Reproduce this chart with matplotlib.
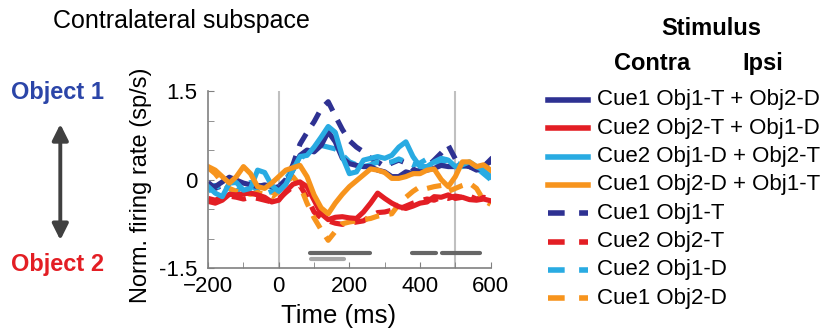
import numpy as np
import matplotlib.pyplot as plt
from matplotlib.lines import Line2D
from matplotlib.patches import FancyArrowPatch

plt.rcParams['font.family'] = ['Liberation Sans', 'DejaVu Sans']

# time axis (ms)
t = list(range(-200, 601, 20))

# Cue1 Obj1-T + Obj2-D (navy, solid)
navy_solid = [-0.09, -0.12, -0.04, 0.04, -0.01, -0.06, -0.09, -0.12, -0.09, -0.12, -0.15,
              -0.06, 0.16, 0.41, 0.50, 0.47, 0.58, 0.81, 0.64, 0.36, 0.27, 0.24, 0.22, 0.22,
              0.16, 0.13, 0.05, 0.05, 0.13, 0.10, 0.16, 0.16, 0.19, 0.24, 0.22, 0.22, 0.24,
              0.22, 0.16, 0.22, 0.34]
# Cue2 Obj2-T + Obj1-D (red, solid)
red_solid = [-0.37, -0.40, -0.35, -0.25, -0.26, -0.24, -0.23, -0.26, -0.30, -0.38, -0.35,
             -0.20, -0.08, -0.04, -0.12, -0.35, -0.58, -0.68, -0.64, -0.63, -0.65, -0.66,
             -0.55, -0.40, -0.23, -0.32, -0.40, -0.46, -0.49, -0.45, -0.40, -0.38, -0.29,
             -0.30, -0.26, -0.32, -0.30, -0.34, -0.35, -0.33, -0.36]
# Cue2 Obj1-D + Obj2-T (light blue, solid)
cyan_solid = [-0.12, -0.23, -0.29, -0.06, -0.05, -0.18, -0.15, 0.16, 0.12, -0.10, -0.20,
              -0.08, 0.16, 0.39, 0.41, 0.55, 0.72, 0.90, 0.80, 0.39, 0.10, 0.13, 0.33, 0.36,
              0.39, 0.36, 0.41, 0.55, 0.64, 0.39, 0.22, 0.22, 0.30, 0.36, 0.33, 0.22, 0.25,
              0.30, 0.22, 0.16, 0.05]
# Cue1 Obj2-D + Obj1-T (orange, solid)
orange_solid = [0.22, 0.16, 0.05, -0.06, 0.05, 0.22, 0.10, -0.12, -0.15, -0.06, 0.05,
                0.16, 0.20, 0.24, 0.05, -0.26, -0.48, -0.58, -0.40, -0.25, -0.12, -0.02,
                0.08, 0.18, 0.16, 0.12, 0.02, 0.02, 0.05, 0.10, 0.10, 0.16, 0.18, 0.00,
                -0.12, 0.05, 0.30, 0.30, 0.22, 0.25, 0.16]
# Cue1 Obj1-T (navy, dashed)
navy_dash = [-0.05, -0.15, -0.10, 0.00, -0.05, -0.10, -0.12, -0.10, -0.12, -0.15, -0.12,
             0.00, 0.25, 0.60, 0.80, 0.98, 1.20, 1.32, 1.08, 0.85, 0.66, 0.55, 0.47, 0.36,
             0.30, 0.22, 0.28, 0.33, 0.28, 0.18, 0.12, 0.22, 0.33, 0.45, 0.58, 0.35, 0.30,
             0.22, 0.18, 0.24, 0.30]
# Cue2 Obj2-T (red, dashed)
red_dash = [-0.32, -0.35, -0.30, -0.28, -0.30, -0.33, -0.30, -0.32, -0.35, -0.38, -0.33,
            -0.22, -0.12, -0.10, -0.30, -0.55, -0.65, -0.70, -0.74, -0.76, -0.74, -0.72,
            -0.70, -0.62, -0.56, -0.55, -0.52, -0.50, -0.45, -0.40, -0.36, -0.33, -0.35,
            -0.30, -0.32, -0.28, -0.30, -0.28, -0.33, -0.30, -0.34]
# Cue2 Obj1-D (light blue, dashed)
cyan_dash = [-0.20, -0.10, -0.15, -0.25, -0.20, -0.10, -0.05, -0.20, -0.25, -0.20, -0.15,
             0.00, 0.20, 0.35, 0.45, 0.50, 0.58, 0.55, 0.52, 0.42, 0.30, 0.25, 0.22, 0.25,
             0.30, 0.28, 0.30, 0.35, 0.30, 0.25, 0.28, 0.35, 0.30, 0.28, 0.35, 0.30, 0.22,
             0.25, 0.20, 0.10, 0.00]
# Cue1 Obj2-D (orange, dashed)
orange_dash = [0.20, 0.10, -0.05, -0.15, -0.20, -0.22, -0.25, -0.22, -0.25, -0.30, -0.20,
               -0.05, 0.05, -0.10, -0.40, -0.65, -0.85, -1.03, -0.88, -0.75, -0.72, -0.70,
               -0.68, -0.66, -0.62, -0.60, -0.58, -0.42, -0.30, -0.20, -0.12, -0.15, -0.12,
               -0.10, -0.20, -0.15, -0.10, -0.06, -0.15, -0.35, -0.42]

labels = ["Cue1 Obj1-T + Obj2-D", "Cue2 Obj2-T + Obj1-D", "Cue2 Obj1-D + Obj2-T",
          "Cue1 Obj2-D + Obj1-T", "Cue1 Obj1-T", "Cue2 Obj2-T", "Cue2 Obj1-D", "Cue1 Obj2-D"]
series = [navy_solid, red_solid, cyan_solid, orange_solid,
          navy_dash, red_dash, cyan_dash, orange_dash]

NAVY, RED, CYAN, ORANGE = "#2E3192", "#E31E24", "#29ABE2", "#F7941D"
colors = [NAVY, RED, CYAN, ORANGE] * 2
styles = ["-"] * 4 + ["--"] * 4

# significance bars (start, end) ms
sig_dark = [(88, 259), (377, 446), (463, 569)]
sig_light = [(92, 184)]

fig = plt.figure(figsize=(8.26, 3.35), dpi=100)
ax = fig.add_axes([0.252, 0.2, 0.342, 0.528])

ax.axvline(0, color="#C0C0C0", lw=1.5, zorder=0)
ax.axvline(500, color="#C0C0C0", lw=1.5, zorder=0)

# dashed first so the solid lines sit on top
order = [4, 5, 6, 7, 0, 1, 2, 3]
for i in order:
    ax.plot(t, series[i], color=colors[i], ls=styles[i], lw=3.7,
            dashes=(2.8, 2.0) if styles[i] == "--" else (None, None))

for a, b in sig_dark:
    ax.plot([a, b], [-1.25, -1.25], color="#666666", lw=3, solid_capstyle="round")
for a, b in sig_light:
    ax.plot([a, b], [-1.35, -1.35], color="#A6A6A6", lw=3, solid_capstyle="round")

ax.set_xlim(-200, 600)
ax.set_ylim(-1.5, 1.5)
ax.set_xticks([-200, 0, 200, 400, 600])
ax.set_xticks([-100, 100, 300, 500], minor=True)
ax.set_yticks([-1.5, 0, 1.5])
ax.set_yticklabels(["-1.5", "0", "1.5"])
ax.set_yticks([-1, -0.5, 0.5, 1], minor=True)
ax.tick_params(which="both", direction="in", color="#808080", length=4, labelsize=16)
ax.tick_params(axis="y", pad=8)
ax.tick_params(axis="x", pad=6)
for s in ["top", "right"]:
    ax.spines[s].set_visible(False)
for s in ["left", "bottom"]:
    ax.spines[s].set_color("#808080")
    ax.spines[s].set_linewidth(1.2)

ax.set_xlabel("Time (ms)", fontsize=18.5, va="center")
ax.xaxis.set_label_coords(0.463, -0.27)
ax.set_ylabel("Norm. firing rate (sp/s)", fontsize=17, va="center")
ax.yaxis.set_label_coords(-0.238, 0.47)

fig.text(0.064, 0.915, "Contralateral subspace", fontsize=18)

# Object axis annotation on the left
fig.text(0.070, 0.725, "Object 1", color="#2B45A8", fontsize=17, fontweight="bold",
         ha="center", va="center")
fig.text(0.070, 0.21, "Object 2", color=RED, fontsize=17, fontweight="bold",
         ha="center", va="center")
fig.add_artist(FancyArrowPatch(
    (0.073, 0.638), (0.073, 0.275), transform=fig.transFigure, arrowstyle="<|-|>",
    mutation_scale=24, color="#404040", lw=2.8))

# legend drawn by hand
fig.text(0.861, 0.915, "Stimulus", fontsize=17, fontweight="bold", ha="center", va="center")
fig.text(0.79, 0.81, "Contra", fontsize=17, fontweight="bold", ha="center", va="center")
fig.text(0.924, 0.81, "Ipsi", fontsize=17, fontweight="bold", ha="center", va="center")
W, H = 826, 335
for k, lab in enumerate(labels):
    yc = 1 - (100 + 28.3 * k) / H
    fig.add_artist(Line2D([548 / W, 588 / W], [yc, yc], color=colors[k], lw=4,
                          ls=styles[k], dashes=(3.0, 2.6) if styles[k] == "--" else (None, None)))
    fig.text(597 / W, yc, lab, fontsize=16, va="center", ha="left")

fig.savefig("out.png", dpi=100)
